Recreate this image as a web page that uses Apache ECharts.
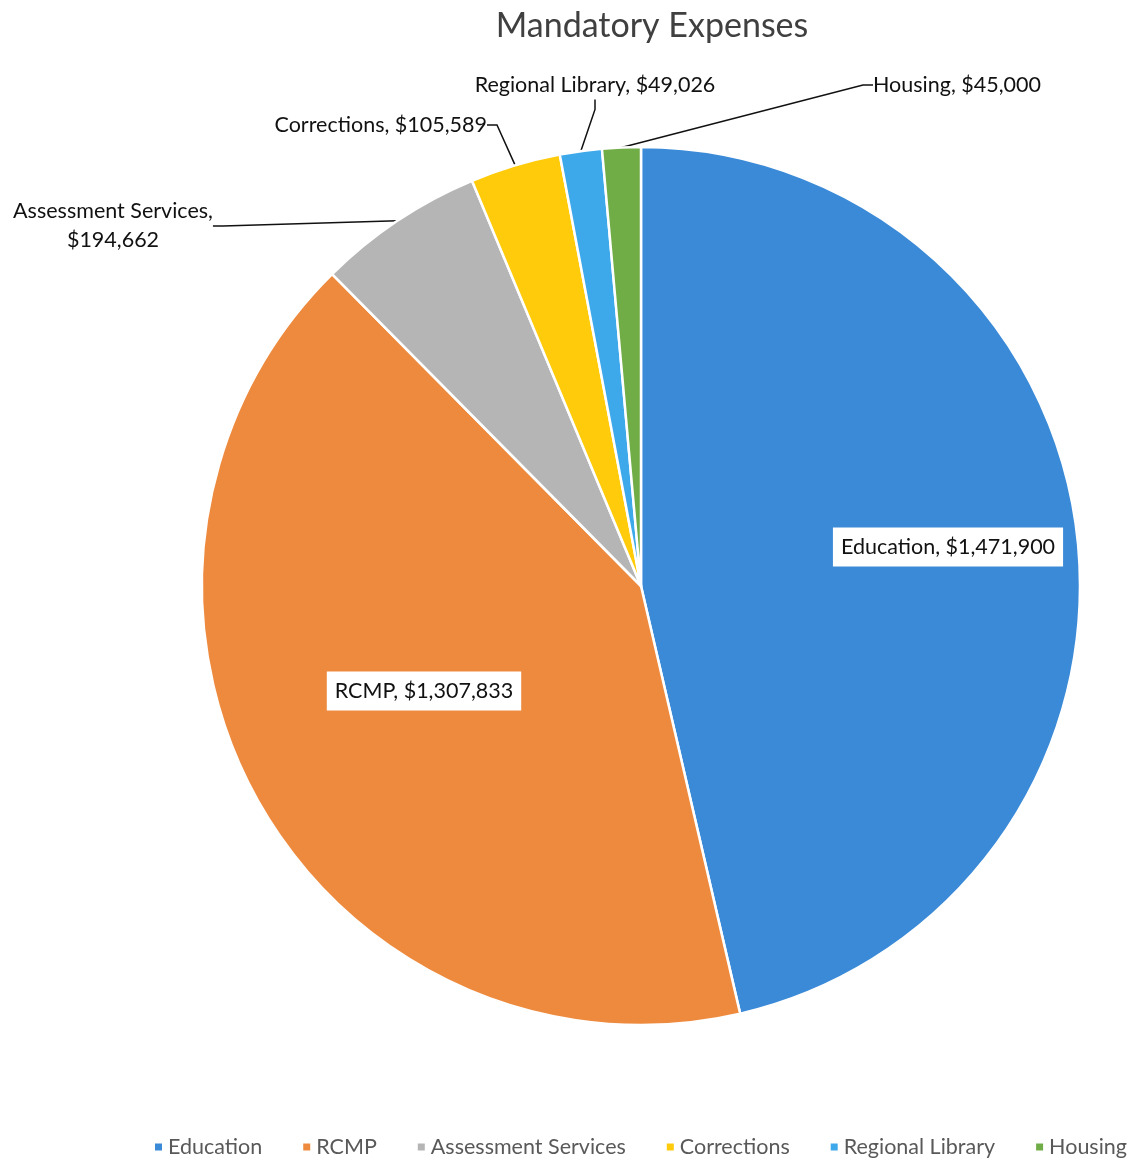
<!DOCTYPE html>
<html><head><meta charset="utf-8">
<script src="https://cdn.jsdelivr.net/npm/echarts@6/dist/echarts.min.js"></script>
<style>html,body{margin:0;padding:0;background:#fff}#c{width:1133px;height:1158px}</style>
</head><body><div id="c"></div>
<script>
const categories = ['Education','RCMP','Assessment Services','Corrections','Regional Library','Housing'];
const values = [1471900, 1307833, 194662, 105589, 49026, 45000];
const colors = ['#3A8AD8','#EE8A3E','#B5B5B5','#FFCB0A','#3EA9EA','#70AD47'];
const labelTexts = ['Education, $1,471,900','RCMP, $1,307,833','Assessment Services,\n$194,662','Corrections, $105,589','Regional Library, $49,026','Housing, $45,000'];
const labelPlace = [[948,547,'center'],[424,691,'center'],[113,226,'center'],[487,125,'right'],[595,85,'center'],[873,85,'left']];
const FONT = 'Lato';
const chart = echarts.init(document.getElementById('c'));
chart.setOption({
  animation:false,
  color: colors,
  title:{text:'Mandatory Expenses',left:647,top:4,textAlign:'center',textStyle:{fontFamily:FONT,fontSize:34,fontWeight:'normal',color:'#404040'}},
  legend:{top:1136,left:153,width:1100,padding:0,icon:'rect',itemWidth:9,itemHeight:9,itemGap:39,textStyle:{fontFamily:FONT,fontSize:21.5,color:'#595959'},data:categories},
  series:[{
    type:'pie',center:[641,586],radius:439,startAngle:90,clockwise:true,
    itemStyle:{borderColor:'#fff',borderWidth:2.5},
    label:{fontFamily:FONT,fontSize:21.5,color:'#111',lineHeight:29},
    labelLine:{show:true,lineStyle:{color:'#111',width:1.5},length:20,length2:10},
    labelLayout:function(p){const q=labelPlace[p.dataIndex];return {x:q[0],y:q[1],align:q[2],verticalAlign:'middle'};},
    data: categories.map((n,i)=>({
      name:n,value:values[i],
      label: i<2 ? {position:'inside',formatter:labelTexts[i],backgroundColor:'#fff',padding:[6,8,4,8]} : {position:'outside',formatter:labelTexts[i],align:'center'},
      labelLine: i<2 ? {show:false} : {show:true}
    }))
  }]
});
</script></body></html>
